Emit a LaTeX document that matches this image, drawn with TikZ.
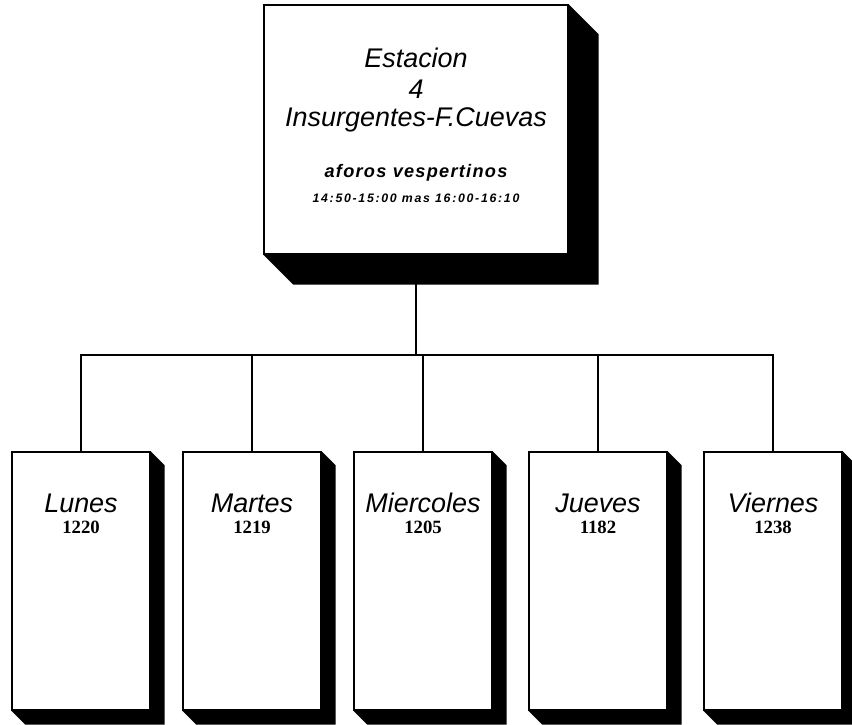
\documentclass[tikz,border=0pt]{standalone}
\usepackage{fontspec}
\setmainfont{Liberation Serif}
\setsansfont{Liberation Sans}
\usetikzlibrary{calc}

% black block shadow to the lower right of a box
\newcommand{\boxshade}[2]{%
  \fill (#1.north east) -- ++(#2,-#2) -- ($(#1.south east)+(#2,-#2)$)
    -- ($(#1.south west)+(#2,-#2)$) -- (#1.south west) -- (#1.south east) -- cycle;}

\begin{document}
\begin{tikzpicture}[x=0.03cm, y=0.03cm,
			box/.style={rectangle, draw=black, fill=white, line width=1.1pt, inner sep=0pt},
			station/.style={box, minimum width=9.12cm, minimum height=7.47cm},
			day/.style={box, minimum width=4.14cm, minimum height=7.74cm},
			dname/.style={font=\sffamily\itshape\fontsize{23}{26}\selectfont, inner sep=0pt, anchor=base},
			sub/.style={font=\sffamily\bfseries\itshape\fontsize{15.5}{17}\selectfont\addfontfeature{LetterSpace=7}, inner sep=0pt, anchor=base},
			hours/.style={font=\sffamily\bfseries\itshape\fontsize{10.5}{12}\selectfont\addfontfeature{LetterSpace=14}, inner sep=0pt, anchor=base},
			dnum/.style={font=\bfseries\fontsize{16}{18}\selectfont, inner sep=0pt, anchor=base},
			link/.style={line width=1.1pt}
			]
			\useasboundingbox (0,0) rectangle (852,724);
			
			\node[station] (est) at (416,594.5) {};
			\boxshade{est}{30}
			\node[dname] (estn) at ($(est.north)+(0,-63)$) {Estacion};
			\node[dname] (estnum) at ($(est.north)+(0,-94)$) {4};
			\node[dname] (estcalle) at ($(est.north)+(0,-122)$) {Insurgentes-F.Cuevas};
			\node[sub] (estaf) at ($(est.north)+(0,-173)$) {aforos vespertinos};
			\node[hours] (esth) at ($(est.north)+(0,-198)$) {14:50-15:00 mas 16:00-16:10};
			
			\node[day] (lun) at (81,143) {};
			\node[day] (mar) at (252,143) {};
			\node[day] (mie) at (423,143) {};
			\node[day] (jue) at (598,143) {};
			\node[day] (vie) at (773,143) {};
			\boxshade{lun}{14}
			\boxshade{mar}{14}
			\boxshade{mie}{14}
			\boxshade{jue}{14}
			\boxshade{vie}{14}
			
			\node[dname] (lunn) at ($(lun.north)+(0,-61)$) {Lunes};
			\node[dnum] (lunv) at ($(lun.north)+(0,-82)$) {1220};
			\node[dname] (marn) at ($(mar.north)+(0,-61)$) {Martes};
			\node[dnum] (marv) at ($(mar.north)+(0,-82)$) {1219};
			\node[dname] (mien) at ($(mie.north)+(0,-61)$) {Miercoles};
			\node[dnum] (miev) at ($(mie.north)+(0,-82)$) {1205};
			\node[dname] (juen) at ($(jue.north)+(0,-61)$) {Jueves};
			\node[dnum] (juev) at ($(jue.north)+(0,-82)$) {1182};
			\node[dname] (vien) at ($(vie.north)+(0,-61)$) {Viernes};
			\node[dnum] (viev) at ($(vie.north)+(0,-82)$) {1238};
			
			% tree connectors
			\coordinate (bus) at (0,369);
			\draw[link] (est.south) -- (est.south |- bus);
			\draw[link] (lun.north) -- (lun.north |- bus) -- (vie.north |- bus) -- (vie.north);
			\draw[link] (mar.north) -- (mar.north |- bus);
			\draw[link] (mie.north) -- (mie.north |- bus);
			\draw[link] (jue.north) -- (jue.north |- bus);
		\end{tikzpicture}
\end{document}
